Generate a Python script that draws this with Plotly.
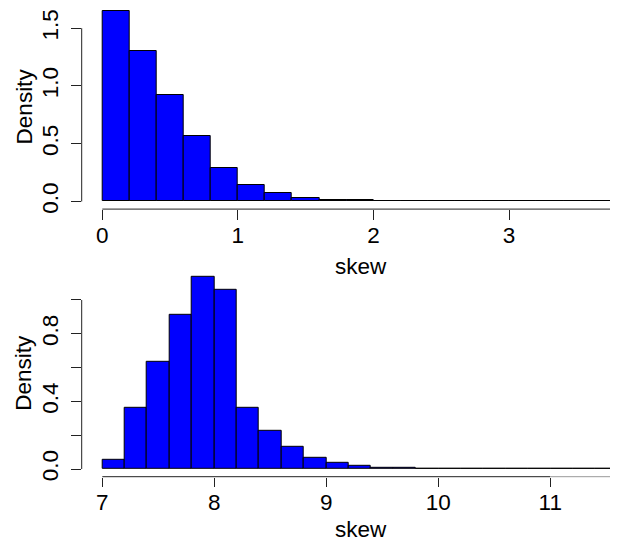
import plotly.graph_objects as go

# ---- data ----
bin_width = 0.2
top_bin_left = [0.0, 0.2, 0.4, 0.6, 0.8, 1.0, 1.2, 1.4, 1.6, 1.8, 2.0, 2.2, 2.4, 2.6,
                2.8, 3.0, 3.2, 3.4, 3.6]
top_density = [1.651, 1.301, 0.925, 0.567, 0.287, 0.139, 0.072, 0.034, 0.017, 0.009,
               0.004, 0.002, 0.001, 0.001, 0.0005, 0.0003, 0.0003, 0.001, 0.0003]

bot_bin_left = [7.0, 7.2, 7.4, 7.6, 7.8, 8.0, 8.2, 8.4, 8.6, 8.8, 9.0, 9.2, 9.4, 9.6,
                9.8, 10.0, 10.2, 10.4, 10.6, 10.8, 11.0, 11.2, 11.4]
bot_density = [0.055, 0.361, 0.633, 0.912, 1.139, 1.058, 0.361, 0.229, 0.132, 0.069,
               0.034, 0.017, 0.009, 0.005, 0.003, 0.002, 0.001, 0.001, 0.0005, 0.0005,
               0.0005, 0.001, 0.0005]

top_xticks = [0, 1, 2, 3]
bot_xticks = [7, 8, 9, 10, 11]
top_yticks = [0.0, 0.5, 1.0, 1.5]
top_yticktext = ["0.0", "0.5", "1.0", "1.5"]
bot_yticks = [0.0, 0.2, 0.4, 0.6, 0.8, 1.0]
bot_yticktext = ["0.0", "", "0.4", "", "0.8", ""]

x_label = "skew"
y_label = "Density"

# ---- styling ----
# The page body has an 8px margin, so the figure is 8px smaller on each axis and
# every position below is given in figure pixels (= window pixels - 8).
W, H = 610, 534
FONT = "Liberation Sans, Arial, Helvetica, sans-serif"
FS = 22.5
AX = "#222222"

fig = go.Figure()
fig.add_trace(go.Bar(x=top_bin_left, y=top_density, width=bin_width, offset=0,
                     marker=dict(color="#0000FF", line=dict(color="black", width=1)),
                     xaxis="x", yaxis="y", showlegend=False))
fig.add_trace(go.Bar(x=bot_bin_left, y=bot_density, width=bin_width, offset=0,
                     marker=dict(color="#0000FF", line=dict(color="black", width=1)),
                     xaxis="x2", yaxis="y2", showlegend=False))

xdom = [73.7 / W, 1.0]
top_dom = [1 - 201.1 / H, 1.0]
bot_dom = [1 - 468.7 / H, 1 - 260.8 / H]

tick_common = dict(ticks="outside", ticklen=9.5, tickwidth=1, tickcolor=AX,
                   showline=False, showgrid=False, zeroline=False, automargin=False,
                   tickfont=dict(family=FONT, size=FS, color="black"))

top_max = max(top_density)
bot_max = max(bot_density)

fig.update_layout(
    template="none",
    width=W, height=H,
    margin=dict(l=0, r=0, t=0, b=0, pad=0),
    paper_bgcolor="white", plot_bgcolor="white",
    bargap=0,
    font=dict(family=FONT, size=FS, color="black"),
    xaxis=dict(domain=xdom, anchor="y", range=[-0.152, 3.804],
               tickvals=top_xticks, ticklabelstandoff=-4, **tick_common),
    yaxis=dict(domain=top_dom, anchor="x", range=[-0.04 * top_max, 1.675],
               tickvals=top_yticks, ticktext=top_yticktext, tickangle=-90,
               ticklabelstandoff=4, **tick_common),
    xaxis2=dict(domain=xdom, anchor="y2", range=[6.816, 11.605],
                tickvals=bot_xticks, ticklabelstandoff=-4, **tick_common),
    yaxis2=dict(domain=bot_dom, anchor="x2", range=[-0.04 * bot_max, 1.04 * bot_max],
                tickvals=bot_yticks, ticktext=bot_yticktext, tickangle=-90,
                ticklabelstandoff=4, **tick_common),
)

# axis lines (R style: from first tick onward)
shapes = [
    dict(type="line", xref="x", yref="y domain", x0=top_bin_left[0], x1=top_bin_left[-1] + bin_width,
         y0=0, y1=0, line=dict(color=AX, width=1)),
    dict(type="line", xref="x domain", yref="y", x0=0, x1=0, y0=top_yticks[0], y1=top_yticks[-1],
         line=dict(color=AX, width=1)),
    dict(type="line", xref="x2", yref="y2 domain", x0=bot_xticks[0], x1=bot_xticks[-1],
         y0=0, y1=0, line=dict(color=AX, width=1)),
    dict(type="line", xref="x2", yref="y2 domain", x0=bot_xticks[-1], x1=bot_bin_left[-1] + bin_width,
         y0=0, y1=0, line=dict(color="#999999", width=1)),
    dict(type="line", xref="x2 domain", yref="y2", x0=0, x1=0, y0=bot_yticks[0], y1=bot_yticks[-1],
         line=dict(color=AX, width=1)),
]
fig.update_layout(shapes=shapes)

ann_font = dict(family=FONT, size=FS, color="black")
annotations = [
    dict(text=x_label, xref="paper", yref="paper", x=352.5 / W, y=1 - 258.5 / H,
         xanchor="center", yanchor="middle", showarrow=False, font=ann_font),
    dict(text=x_label, xref="paper", yref="paper", x=352.5 / W, y=1 - 521.0 / H,
         xanchor="center", yanchor="middle", showarrow=False, font=ann_font),
    dict(text=y_label, xref="paper", yref="paper", x=16 / W, y=1 - 98.4 / H,
         xanchor="center", yanchor="middle", textangle=-90, showarrow=False, font=ann_font),
    dict(text=y_label, xref="paper", yref="paper", x=16 / W, y=1 - 364.7 / H,
         xanchor="center", yanchor="middle", textangle=-90, showarrow=False, font=ann_font),
]
fig.update_layout(annotations=annotations)

fig.write_html("out.html")
